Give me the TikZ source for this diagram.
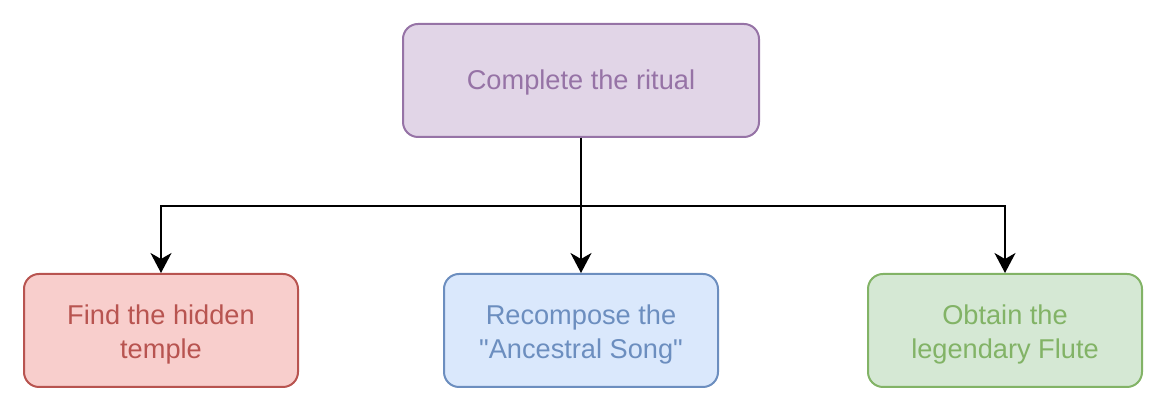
\documentclass[tikz,border=0pt]{standalone}
\usepackage{fontspec}
\setmainfont{Liberation Sans}[Ligatures=TeXOff]
\usetikzlibrary{positioning,arrows.meta}

\definecolor{purplefill}{HTML}{E1D5E7}
\definecolor{purpleline}{HTML}{9673A6}
\definecolor{redfill}{HTML}{F8CECC}
\definecolor{redline}{HTML}{B85450}
\definecolor{bluefill}{HTML}{DAE8FC}
\definecolor{blueline}{HTML}{6C8EBF}
\definecolor{greenfill}{HTML}{D5E8D4}
\definecolor{greenline}{HTML}{82B366}

\tikzset{
    goalbox/.style={draw=#1line, fill=#1fill, text=#1line, line width=1pt,
        rounded corners=7.5pt, align=center, inner sep=0pt,
        font=\fontsize{13.6}{17}\selectfont},
    link/.style={line width=1pt, -{Stealth[length=10pt,width=10.5pt,inset=3pt]}}
}

\begin{document}
\begin{tikzpicture}[x=0.5pt,y=-0.5pt]
\useasboundingbox (0,0) rectangle (1169,415);

% 目標(上)
\node[goalbox=purple, minimum width=178pt, minimum height=56.5pt, text height=12pt] (ritual) at (581,80.5) {Complete the ritual};

% 下の三つ
\foreach \name/\x/\col/\text in {
    temple/161/red/{Find the hidden\\temple},
    song/581/blue/{Recompose the\\"Ancestral Song"},
    flute/1005/green/{Obtain the\\legendary Flute}} {
    \node[goalbox=\col, minimum width=137pt, minimum height=56.5pt, text height=31pt] (\name) at (\x,330.5) {\text};
}

% 分岐点
\coordinate (split) at (581,206);

% 矢印
\draw[link] (ritual.south) -- (song.north);
\foreach \name in {temple, flute} {
    \draw[link] (ritual.south) -- (split) -| (\name.north);
}
\end{tikzpicture}
\end{document}
